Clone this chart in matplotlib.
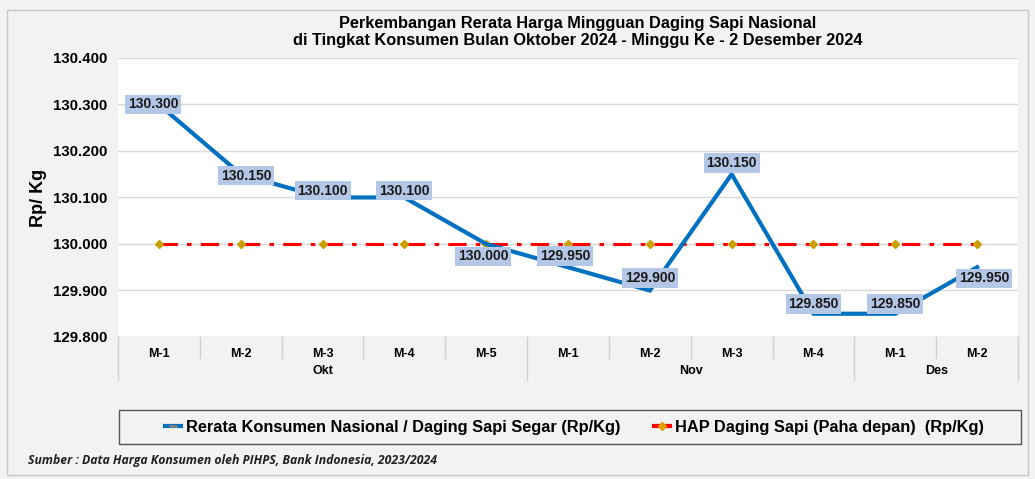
import matplotlib
matplotlib.use("Agg")
import matplotlib.pyplot as plt
from matplotlib.lines import Line2D
from matplotlib.patches import Rectangle
from matplotlib.ticker import FuncFormatter

plt.rcParams['font.family'] = ['Liberation Sans', 'DejaVu Sans']

weeks = ["M-1", "M-2", "M-3", "M-4", "M-5", "M-1", "M-2", "M-3", "M-4", "M-1", "M-2"]
months = ["Okt", "Nov", "Des"]
month_sizes = [5, 4, 2]
konsumen = [130300, 130150, 130100, 130100, 130000, 129950, 129900, 130150, 129850, 129850, 129950]
hap = [130000] * 11

# label offsets in points (dx, dy)
label_offsets = [(-4, 0), (4, -1), (0, 5), (0, 5), (-2, -9), (-2, 8), (0, 9), (0, 8), (0, 7), (0, 7), (5, -8)]


def idr(v, pos=None):
    return f"{v:,.0f}".replace(",", ".")


fig = plt.figure(figsize=(10.35, 4.79), dpi=100)
fig.patch.set_facecolor("#f2f2f2")
fig.patches.append(Rectangle((0.007, 0.008), 0.986, 0.972, transform=fig.transFigure,
                             fill=False, edgecolor="#c8c8c8", linewidth=1))

ax = fig.add_axes([0.114, 0.2965, 0.8696, 0.5825])
ax.set_facecolor("white")
x = list(range(len(weeks)))

ax.plot(x, hap, color="#ff0000", linewidth=2.2, linestyle=(0, (6, 3, 1.5, 3)), zorder=3)
ax.plot(x, hap, linestyle="none", marker="D", markersize=4, color="#c9a000", zorder=4)
ax.plot(x, konsumen, color="#0070c0", linewidth=3, solid_joinstyle="miter", zorder=5)

for xi, v, (dx, dy) in zip(x, konsumen, label_offsets):
    ax.annotate(idr(v), (xi, v), xytext=(dx, dy), textcoords="offset points",
                ha="center", va="center", fontsize=10, fontweight="bold", color="#1a1a1a",
                bbox=dict(boxstyle="square,pad=0.2", facecolor="#b4c7e7", edgecolor="none"),
                zorder=6)

ax.set_xlim(-0.5, len(weeks) - 0.5)
ax.set_ylim(129800, 130400)
ax.set_yticks([129800, 129900, 130000, 130100, 130200, 130300, 130400])
ax.yaxis.set_major_formatter(FuncFormatter(idr))
ax.tick_params(axis="y", length=0, pad=8, labelsize=10.8)
for lab in ax.get_yticklabels():
    lab.set_fontweight("bold")
ax.grid(axis="y", color="#d9d9d9", linewidth=1)
ax.set_axisbelow(True)
for s in ax.spines.values():
    s.set_visible(False)

# category axis
ax.set_xticks(x)
ax.set_xticklabels(weeks, fontsize=9, fontweight="bold")
ax.tick_params(axis="x", length=0, pad=8)
bounds = [-0.5]
for n in month_sizes:
    bounds.append(bounds[-1] + n)
for b in [i - 0.5 for i in range(len(weeks) + 1)]:
    long_line = b in bounds
    ax.plot([b, b], [0, -0.155 if long_line else -0.075], color="#d0d0d0", linewidth=1,
            transform=ax.get_xaxis_transform(), clip_on=False)
ax.axhline(129800, color="#d9d9d9", linewidth=1)
for m, lo, hi in zip(months, bounds[:-1], bounds[1:]):
    ax.text((lo + hi) / 2, -0.123, m, transform=ax.get_xaxis_transform(),
            ha="center", va="center", fontsize=9, fontweight="bold")

ax.set_ylabel("Rp/ Kg", fontsize=13, fontweight="bold", labelpad=4)

fig.text(0.558, 0.933, "Perkembangan Rerata Harga Mingguan Daging Sapi Nasional\n"
         "di Tingkat Konsumen Bulan Oktober 2024 - Minggu Ke - 2 Desember 2024",
         ha="center", va="center", fontsize=11.8, fontweight="bold", linespacing=1.15)

# legend
fig.patches.append(Rectangle((0.115, 0.073), 0.871, 0.071, transform=fig.transFigure,
                             facecolor="none", edgecolor="#555555", linewidth=1))
handles = [
    Line2D([], [], color="#0070c0", linewidth=3, marker="_", markersize=6,
           markeredgecolor="#808080", markeredgewidth=2),
    Line2D([], [], color="#ff0000", linewidth=3, marker="D", markersize=4,
           markerfacecolor="#e0a000", markeredgecolor="#e0a000"),
]
fig.legend(handles, ["Rerata Konsumen Nasional / Daging Sapi Segar (Rp/Kg)",
                     "HAP Daging Sapi (Paha depan)  (Rp/Kg)"],
           loc="center", bbox_to_anchor=(0.555, 0.1085), ncol=2, frameon=False,
           prop=dict(size=11.8, weight="bold"), handlelength=1.0, handletextpad=0.3,
           columnspacing=2.0)

fig.text(0.027, 0.038, "Sumber : Data Harga Konsumen oleh PIHPS, Bank Indonesia, 2023/2024",
         ha="left", va="center", fontsize=8.8, fontweight="bold", style="italic",
         family=["Open Sans", "DejaVu Sans"], color="#222222")

fig.savefig("out.png", dpi=100, facecolor=fig.get_facecolor())
